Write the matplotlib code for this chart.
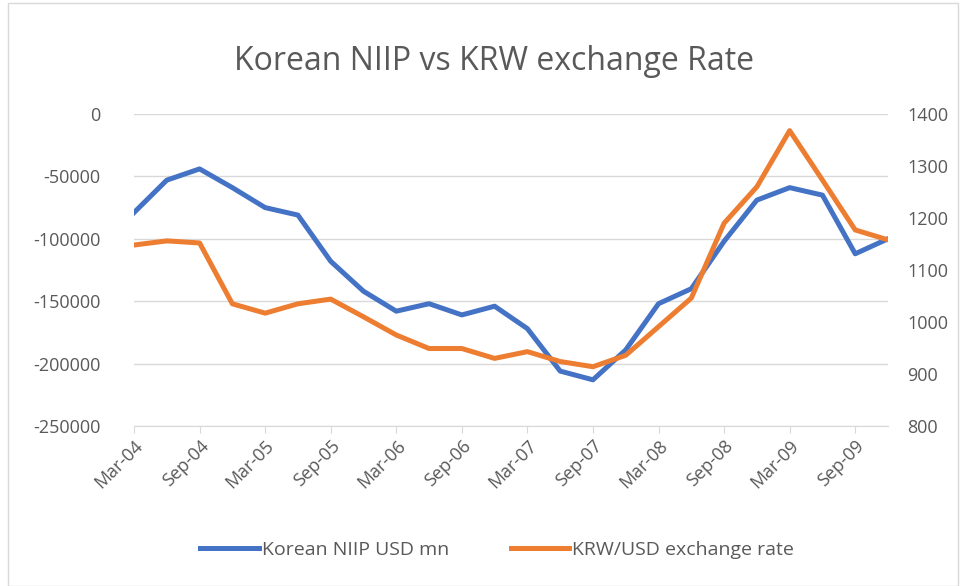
import matplotlib
matplotlib.use("Agg")
import matplotlib.pyplot as plt
from matplotlib.ticker import FixedLocator

plt.rcParams['font.family'] = ['Open Sans', 'DejaVu Sans']

quarters = ["Mar-04", "Jun-04", "Sep-04", "Dec-04", "Mar-05", "Jun-05", "Sep-05", "Dec-05",
            "Mar-06", "Jun-06", "Sep-06", "Dec-06", "Mar-07", "Jun-07", "Sep-07", "Dec-07",
            "Mar-08", "Jun-08", "Sep-08", "Dec-08", "Mar-09", "Jun-09", "Sep-09", "Dec-09"]
niip = [-79000, -53000, -44000, -59000, -75000, -81000, -118000, -142000,
        -158000, -152000, -161000, -154000, -172000, -206000, -213000, -189000,
        -152000, -140000, -102000, -69000, -59000, -65000, -112000, -100000]
krw = [1148, 1156, 1152, 1035, 1017, 1035, 1044, 1010,
       975, 949, 949, 930, 943, 924, 914, 936,
       991, 1046, 1190, 1260, 1368, 1273, 1177, 1158]
tick_labels = quarters[::2]
left_ticks = [0, -50000, -100000, -150000, -200000, -250000]
right_ticks = [800, 900, 1000, 1100, 1200, 1300, 1400]

txt = '#595959'
fig = plt.figure(figsize=(9.6, 5.86), dpi=100)
fig.patches.append(plt.Rectangle((0.008, 0.0), 0.99, 0.995, transform=fig.transFigure,
                                 fill=False, edgecolor='#D9D9D9', lw=1))
ax = fig.add_axes([134/960, 1-426/586, (888-134)/960, 312/586])
x = list(range(len(quarters)))
l1, = ax.plot(x, niip, color='#4472C4', lw=3.6, solid_joinstyle='round', label='Korean NIIP USD mn', zorder=3)
ax.set_ylim(-250000, 0)
ax.set_xlim(0, len(quarters) - 1)
ax.yaxis.set_major_locator(FixedLocator(left_ticks))
ax.set_yticklabels([str(v) for v in left_ticks])
ax.grid(axis='y', color='#D9D9D9', lw=1)
ax.set_axisbelow(True)
for s in ['top', 'right', 'left']:
    ax.spines[s].set_visible(False)
ax.spines['bottom'].set_color('#D9D9D9')
ax.tick_params(axis='y', length=0, colors=txt, labelsize=13, pad=24)
ax.set_xticks(x[::2])
ax.set_xticklabels(tick_labels, rotation=45, ha='right', rotation_mode='anchor')
ax.tick_params(axis='x', length=5, color='#D9D9D9', colors=txt, labelsize=13, pad=3)

ax2 = ax.twinx()
l2, = ax2.plot(x, krw, color='#ED7D31', lw=3.6, solid_joinstyle='round', label='KRW/USD exchange rate', zorder=3)
ax2.set_ylim(800, 1400)
ax2.set_yticks(right_ticks)
for s in ['top', 'right', 'left', 'bottom']:
    ax2.spines[s].set_visible(False)
ax2.tick_params(axis='y', length=0, colors=txt, labelsize=13, pad=14)

fig.text(0.515, 0.895, 'Korean NIIP vs KRW exchange Rate', ha='center', va='center',
         fontsize=23, color=txt)
fig.legend(handles=[l1, l2], loc='center', bbox_to_anchor=(0.518, 1-550/586), ncol=2,
           frameon=False, fontsize=14, labelcolor=txt, handlelength=3.0,
           columnspacing=3.2, handletextpad=0.15)
fig.savefig('out.png', dpi=100)
